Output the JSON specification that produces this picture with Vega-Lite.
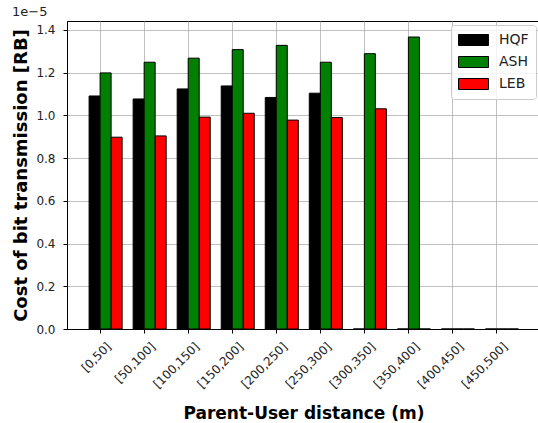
{
  "$schema": "https://vega.github.io/schema/vega-lite/v6.json",
  "autosize": {"type": "none"},
  "width": 473,
  "height": 308,
  "padding": {"left": 67, "top": 21, "right": 0, "bottom": 94},
  "background": "white",
  "title": {"text": "1e\u22125", "anchor": "start", "fontSize": 13, "fontWeight": "normal", "font": "DejaVu Sans", "color": "#222", "offset": 2},
  "config": {
    "font": "DejaVu Sans",
    "view": {"stroke": "black", "strokeWidth": 1}
  },
  "data": {"values": [
    {"range": "[0,50]", "method": "HQF", "cost": 1.091e-5},
    {"range": "[0,50]", "method": "ASH", "cost": 1.199e-5},
    {"range": "[0,50]", "method": "LEB", "cost": 0.898e-5},
    {"range": "[50,100]", "method": "HQF", "cost": 1.077e-5},
    {"range": "[50,100]", "method": "ASH", "cost": 1.249e-5},
    {"range": "[50,100]", "method": "LEB", "cost": 0.904e-5},
    {"range": "[100,150]", "method": "HQF", "cost": 1.124e-5},
    {"range": "[100,150]", "method": "ASH", "cost": 1.268e-5},
    {"range": "[100,150]", "method": "LEB", "cost": 0.992e-5},
    {"range": "[150,200]", "method": "HQF", "cost": 1.138e-5},
    {"range": "[150,200]", "method": "ASH", "cost": 1.308e-5},
    {"range": "[150,200]", "method": "LEB", "cost": 1.010e-5},
    {"range": "[200,250]", "method": "HQF", "cost": 1.084e-5},
    {"range": "[200,250]", "method": "ASH", "cost": 1.328e-5},
    {"range": "[200,250]", "method": "LEB", "cost": 0.978e-5},
    {"range": "[250,300]", "method": "HQF", "cost": 1.104e-5},
    {"range": "[250,300]", "method": "ASH", "cost": 1.249e-5},
    {"range": "[250,300]", "method": "LEB", "cost": 0.990e-5},
    {"range": "[300,350]", "method": "HQF", "cost": 0},
    {"range": "[300,350]", "method": "ASH", "cost": 1.289e-5},
    {"range": "[300,350]", "method": "LEB", "cost": 1.031e-5},
    {"range": "[350,400]", "method": "HQF", "cost": 0},
    {"range": "[350,400]", "method": "ASH", "cost": 1.367e-5},
    {"range": "[350,400]", "method": "LEB", "cost": 0},
    {"range": "[400,450]", "method": "HQF", "cost": 0},
    {"range": "[400,450]", "method": "ASH", "cost": 0},
    {"range": "[400,450]", "method": "LEB", "cost": 0},
    {"range": "[450,500]", "method": "HQF", "cost": 0},
    {"range": "[450,500]", "method": "ASH", "cost": 0},
    {"range": "[450,500]", "method": "LEB", "cost": 0}
  ]},
  "mark": {"type": "bar", "stroke": "black", "strokeWidth": 1, "filled": true},
  "encoding": {
    "x": {
      "field": "range", "type": "nominal", "sort": null,
      "scale": {"paddingInner": 0, "paddingOuter": 0.37, "align": 0.34},
      "axis": {
        "title": "Parent-User distance (m)", "titleFontSize": 17, "titleFontWeight": "bold", "titleColor": "black",
        "titleBaseline": "alphabetic", "titleY": 89, "titleX": 236.5, "titleAlign": "center",
        "labelAngle": -45, "labelAlign": "right", "labelBaseline": "middle", "labelFontSize": 12, "labelColor": "#222",
        "labelOffset": 9, "labelPadding": 11,
        "bandPosition": 0.5, "grid": true, "gridColor": "#b0b0b0", "gridWidth": 0.8,
        "tickColor": "black", "tickSize": 4, "domainColor": "black"
      }
    },
    "xOffset": {
      "field": "method", "type": "nominal",
      "scale": {"domain": ["pad", "HQF", "ASH", "LEB"], "paddingInner": 0, "paddingOuter": 0}
    },
    "y": {
      "field": "cost", "type": "quantitative",
      "scale": {"domain": [0, 1.442e-5], "nice": false, "zero": true},
      "axis": {
        "title": "Cost of bit transmission [RB]", "titleFontSize": 18, "titleFontWeight": "bold", "titleColor": "black",
        "titleBaseline": "alphabetic", "titleX": -41, "titleY": 154, "titleAlign": "center", "titleAngle": -90,
        "values": [0, 0.2e-5, 0.4e-5, 0.6e-5, 0.8e-5, 1.0e-5, 1.2e-5, 1.4e-5],
        "labelExpr": "format(datum.value * 100000, '.1f')",
        "labelFontSize": 12, "labelColor": "#222", "labelPadding": 8,
        "grid": true, "gridColor": "#b0b0b0", "gridWidth": 0.8,
        "tickColor": "black", "tickSize": 4, "domainColor": "black"
      }
    },
    "color": {
      "field": "method", "type": "nominal",
      "scale": {"domain": ["HQF", "ASH", "LEB"], "range": ["black", "green", "red"]},
      "legend": {
        "title": null, "orient": "none", "legendX": 384, "legendY": 4,
        "padding": 7, "strokeColor": "#cccccc", "cornerRadius": 3, "fillColor": "rgba(255,255,255,0.8)",
        "labelFontSize": 14, "labelColor": "#222", "labelOffset": 17.5,
        "symbolType": "M-2,-0.733H2V0.733H-2Z", "symbolSize": 225, "symbolOffset": 7.5,
        "symbolStrokeColor": "black", "symbolStrokeWidth": 1, "symbolOpacity": 1,
        "rowPadding": 6
      }
    }
  }
}
